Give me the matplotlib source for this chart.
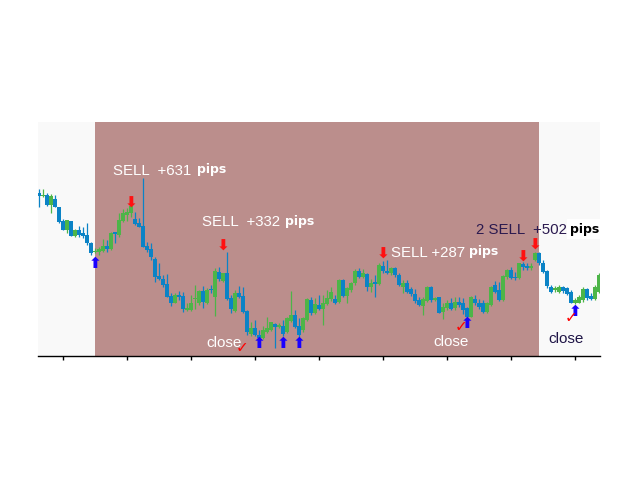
import matplotlib
matplotlib.use("Agg")
import matplotlib.pyplot as plt
import numpy as np

# ---- OHLC data (price units, one candle per bar) ----
open_ = [207.3, 204.3, 205, 195, 201, 192.7, 179.3, 170, 179, 164.3, 170, 166.7, 165, 157.3,
         148.3, 148.3, 149.3, 154, 151, 167.7, 165, 179, 185, 186.7, 180.7, 177.3, 174, 154,
         150.7, 141, 124, 121, 116, 104, 97.3, 105, 104, 90, 90, 101, 97.3, 109, 97.3, 111,
         103.3, 128.3, 119, 127.3, 101.7, 89, 106.7, 104, 89, 65.7, 72.3, 65, 62.3, 68.3, 70, 76,
         73.3, 74.3, 67.7, 79.3, 85, 74, 70, 80, 100, 86.7, 95, 91, 96, 100.7, 100.7, 97.7,
         120, 104.3, 110, 116.7, 129.3, 122.7, 126, 113.3, 118.3, 115.7, 134, 129.3, 126.7, 131.7,
         125, 113.3, 117.3, 110.7, 105.7, 100, 94.3, 99.3, 113.3, 100, 102.7, 88.3, 91.7, 96.7,
         91.7, 98.3, 96.7, 91.7, 83.3, 100.7, 96.7, 96.7, 88.3, 95, 115, 110, 100, 122.7, 130,
         123.3, 121.7, 136, 134, 131.7, 140, 146.7, 137.3, 129.3, 113.3, 110, 108.3, 113.3, 111.7,
         108.3, 97.3, 97.3, 100, 110.7, 104, 100.7, 108.3]
high = [210.7, 210.7, 206.7, 206, 205, 193.3, 180.7, 180, 179, 171, 174, 173.3, 177.3, 158.3,
        151.7, 153.3, 160.7, 160, 168.3, 168.3, 186.7, 190.7, 191.7, 199.3, 188.3, 181.7, 222, 158.3,
        156.7, 142.7, 136.7, 125, 126, 106.7, 106.7, 109.3, 108.3, 97.3, 105, 115, 110, 114, 111.7, 115,
        131.7, 133.3, 127.3, 148.3, 105, 110, 114, 113.3, 90, 78.3, 80, 70, 74, 82.7, 78.3, 76.7,
        77.3, 80, 82.7, 109, 90, 81.7, 82.7, 101.7, 103.3, 101.7, 105, 105, 110, 113.3, 105, 120.7,
        120.7, 113.3, 118.3, 130.7, 131.7, 130.7, 127.3, 120.7, 125, 137.3, 139.3, 140, 133.3, 133.3,
        126.7, 120, 120, 113.3, 110.7, 103.3, 103.3, 114, 114, 103.3, 103.3, 96.7, 100, 101.7,
        103.3, 103.3, 101.7, 93.3, 104, 105, 100.7, 100, 98.3, 114, 119.3, 118.3, 125, 130.7, 133.3,
        128.3, 137.3, 138.3, 137.3, 136.7, 148.3, 148.3, 140, 130, 115, 114, 115, 114, 113.3,
        110, 101.7, 105, 113.3, 111.7, 106.7, 115, 126.7]
low = [193.3, 203.3, 194, 187.3, 192.7, 176.7, 170, 166.7, 164, 163.3, 163.3, 161.7, 155, 145,
       146.7, 145, 148.3, 148.3, 150, 156.7, 163.3, 178.3, 179.3, 183.3, 175, 173.3, 153.3, 148.3,
       140, 118.3, 120, 112.7, 103.3, 94, 96.7, 100, 88.3, 89.3, 89.3, 90.7, 95, 91.7, 96, 106.7,
       84, 119.3, 118.3, 100, 87.3, 88.3, 101.7, 87.3, 65, 64, 64, 60.7, 60.7, 66.7, 69.3, 51.7,
       71.7, 64, 66.7, 78.3, 71.7, 63.3, 68.3, 79.3, 85, 86, 90, 75, 95, 99.3, 96, 96.7,
       103.3, 96.7, 108.3, 115, 121.7, 121.7, 109.3, 108.3, 103.3, 115, 126.7, 126, 125, 123.3,
       114, 107.3, 107.3, 104, 97.3, 94, 85, 98.3, 98.3, 99.3, 86.7, 81, 90, 90,
       90, 92.7, 86, 80.7, 82.7, 95, 90.7, 86.7, 87.3, 94, 106.7, 99.3, 99.3, 120.7, 120.7,
       120, 120.7, 130, 130, 130, 139.3, 135, 126.7, 111.7, 107.3, 108.3, 107.3, 106.7, 105,
       96.7, 96, 96.7, 98.3, 100, 100, 100, 106.7]
close = [204, 205.3, 195, 204, 193.3, 178.3, 170, 180, 164.3, 170, 165, 164.3, 157.3, 147.3,
         149.3, 150.7, 154, 151, 166.7, 165.7, 180, 186.7, 188.3, 194, 176, 173.3, 153.3, 150,
         142.7, 123.3, 120.7, 115, 103.3, 96.7, 105, 103.3, 91, 92.3, 96.7, 102.3, 109.3, 98.3, 110, 110,
         129, 120.7, 126.7, 101, 91, 106.7, 103.3, 88.3, 67.7, 72.3, 65, 62.3, 70, 72.3, 77.7, 73.3,
         75, 65.7, 81.7, 85, 73.3, 65, 81.7, 100.7, 86.7, 96, 91, 97.3, 101.7, 108.3, 97.3, 120,
         104.3, 111.7, 117.3, 129.3, 122.7, 126.7, 113.3, 117.3, 115.7, 135, 129.3, 126.7, 131.7, 125,
         115, 117.3, 108.3, 105.7, 99, 95, 100.7, 113.3, 100, 101.7, 87.3, 93.3, 97.3, 91,
         98.3, 95, 90, 83.3, 102.7, 96.7, 92.7, 88.3, 96.7, 113.3, 108.3, 100, 124, 130, 121.7,
         121.7, 136.7, 133.3, 131.7, 134, 146.7, 136.7, 128.3, 114, 108.3, 111.7, 113.3, 109.3, 106,
         97.3, 100, 102.7, 110.7, 101.7, 100.7, 113.3, 125]

# ---- signals (bar index, price level of the marker) ----
buy_idx = [14, 55, 61, 65, 107, 134]
buy_level = [137, 56, 56, 56, 77, 89]
sell_idx = [23, 46, 86, 121, 124]
sell_level = [197, 154, 146, 143, 155]
check_idx = [50.7, 105.5, 133.0]
check_level = [52, 73, 82]

# ---- shaded trading zone (bar index range) ----
zone_start, zone_end = 14, 125

# ---- labels ----
sell_texts = ["SELL  +631", "SELL  +332", "SELL +287"]
sell_text_x = [18.5, 40.75, 88]
sell_text_y = [229, 178, 147]
pips_x = [39.6, 61.5, 107.4]
big_text = "2 SELL  +502"
big_text_x, big_text_y = 109.25, 170
big_pips_x = 132.8
close_x = [41.75, 98.5, 127.25]
close_y = [57, 58, 61]
close_colors = ["white", "white", "#1e1446"]

tick_positions = [6, 22, 38, 54, 70, 86, 102, 118, 134]

GREEN = "#4db548"
BLUE = "#0b83c6"

fig = plt.figure(figsize=(6.4, 4.8), dpi=100)
fig.patch.set_facecolor("white")
ax = fig.add_axes([38 / 640, 124 / 480, 562 / 640, 234 / 480])
ax.set_facecolor("#f9f9f9")

ax.axvspan(zone_start, zone_end, color="#bb8e8c", lw=0, zorder=0)

n = len(open_)
idx = np.arange(n)
o = np.array(open_); h = np.array(high); l = np.array(low); c = np.array(close)
colors = [GREEN if cc > oo else BLUE for oo, cc in zip(o, c)]

ax.vlines(idx, l, h, colors=colors, lw=0.9, zorder=2)
heights = np.maximum(np.abs(c - o), 1.2)
bottoms = np.minimum(o, c)
ax.bar(idx, heights, bottom=bottoms, width=0.78, color=colors, lw=0, zorder=3,
       antialiased=False)

for xi, yi in zip(buy_idx, buy_level):
    ax.text(xi, yi, "⬆", color="#1a00ff", fontsize=11, fontweight="bold",
            ha="center", va="center", family="DejaVu Sans", zorder=5)
for xi, yi in zip(sell_idx, sell_level):
    ax.text(xi, yi, "⬇", color="#ff1010", fontsize=11, fontweight="bold",
            ha="center", va="center", family="DejaVu Sans", zorder=5)
for xi, yi in zip(check_idx, check_level):
    ax.text(xi, yi, "✓", color="#ff0000", fontsize=11, fontweight="bold",
            ha="center", va="center", family="DejaVu Sans", zorder=5)

for t, xi, yi, px in zip(sell_texts, sell_text_x, sell_text_y, pips_x):
    ax.text(xi, yi, t, color="white", fontsize=10.8, family="Liberation Sans",
            ha="left", va="center", zorder=6)
    ax.text(px, yi + 1, "pips", color="white", fontsize=9, fontweight="bold",
            family="DejaVu Sans", ha="left", va="center", zorder=6)

ax.text(big_text_x, big_text_y, big_text, color="#2b1a4f", fontsize=10.8,
        family="Liberation Sans", ha="left", va="center", zorder=6)
ax.text(big_pips_x, big_text_y + 1, "pips", color="black", fontsize=9, fontweight="bold",
        family="DejaVu Sans", ha="left", va="center", zorder=6, clip_on=False,
        bbox=dict(facecolor="white", edgecolor="none", pad=2.5))

for xi, yi, col in zip(close_x, close_y, close_colors):
    ax.text(xi, yi, "close", color=col, fontsize=11, family="Liberation Sans",
            ha="left", va="center", zorder=6)

ax.set_xlim(-0.25, 140.25)
ax.set_ylim(44, 278)
for s in ["top", "left", "right"]:
    ax.spines[s].set_visible(False)
ax.spines["bottom"].set_color("black")
ax.spines["bottom"].set_linewidth(1.0)
ax.set_xticks(tick_positions)
ax.set_xticklabels([])
ax.tick_params(axis="x", length=3, width=1, direction="out", color="black")
ax.set_yticks([])

fig.savefig("out.png", dpi=100)
